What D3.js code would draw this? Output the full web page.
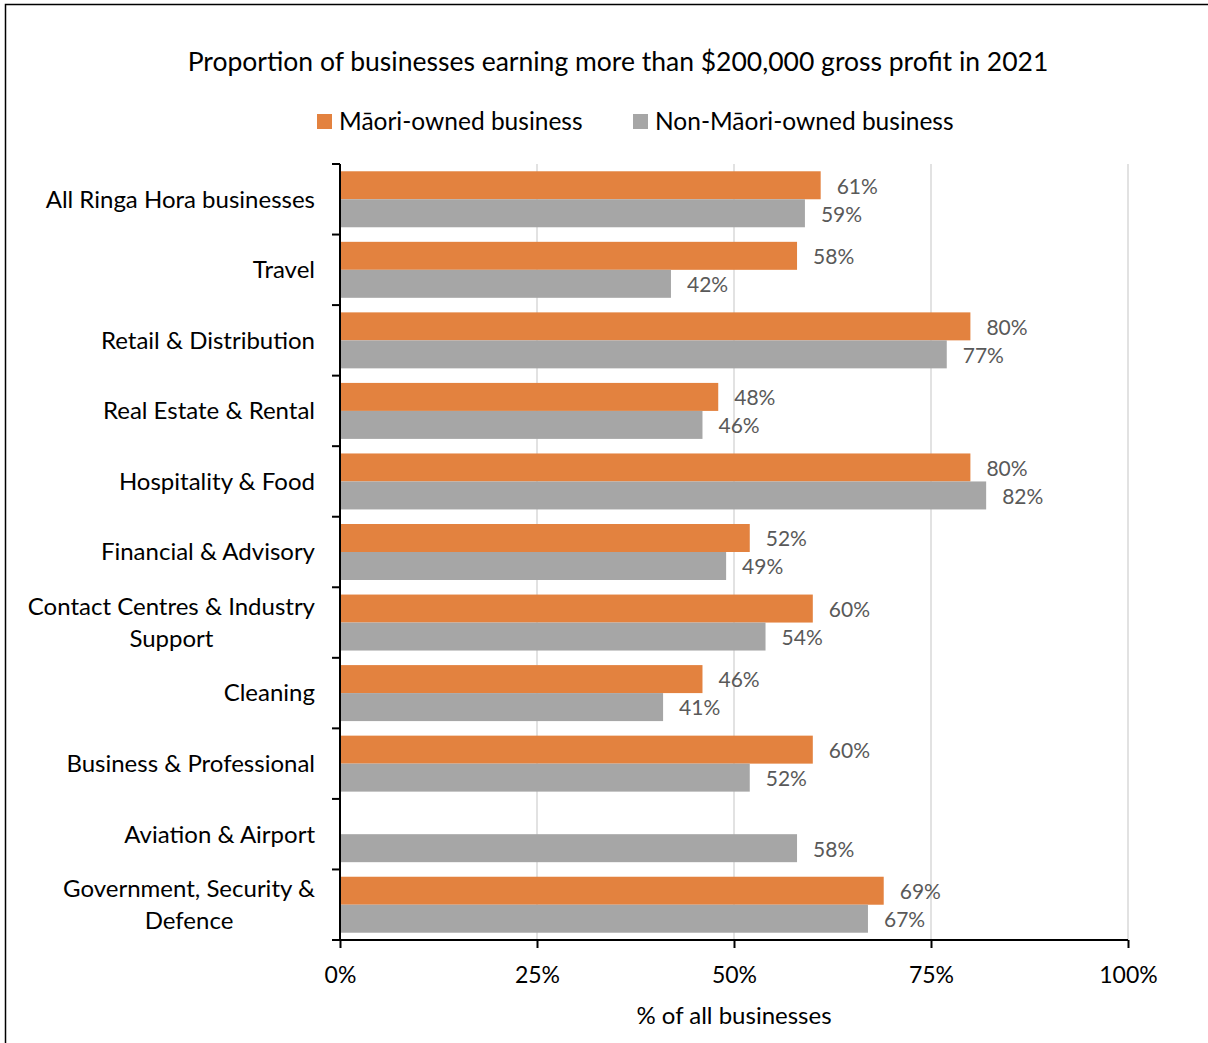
<!DOCTYPE html>
<html>
<head>
<meta charset="utf-8">
<script src="https://cdn.jsdelivr.net/npm/d3@7"></script>
<style>
  html, body { margin: 0; padding: 0; background: #fff; }
  svg { display: block; font-family: Lato, "Open Sans", sans-serif; }
</style>
</head>
<body>
<svg id="chart" width="1208" height="1043"></svg>
<script>
// Industry groups, top to bottom
const categories = [
  ["All Ringa Hora businesses"],
  ["Travel"],
  ["Retail & Distribution"],
  ["Real Estate & Rental"],
  ["Hospitality & Food"],
  ["Financial & Advisory"],
  ["Contact Centres & Industry", "Support"],
  ["Cleaning"],
  ["Business & Professional"],
  ["Aviation & Airport"],
  ["Government, Security &", "Defence"]
];
const seriesNames = ["Māori-owned business", "Non-Māori-owned business"];
// Percent of businesses earning more than $200,000 gross profit
const maoriValues    = [61, 58, 80, 48, 80, 52, 60, 46, 60, null, 69];
const nonMaoriValues = [59, 42, 77, 46, 82, 49, 54, 41, 52, 58, 67];
const xTicks = [0, 25, 50, 75, 100];

const colors = ["#E3823F", "#A6A6A6"];
const labelFont = 24;
const svg = d3.select("#chart");

// Outer frame
svg.append("rect")
  .attr("x", 5.5).attr("y", 4.5)
  .attr("width", 1220).attr("height", 1100)
  .attr("fill", "none").attr("stroke", "#000").attr("stroke-width", 1.5);

const plot = { left: 340, right: 1128, top: 164, bottom: 940 };

const x = d3.scaleLinear().domain([0, 100]).range([plot.left, plot.right]);
const catKeys = categories.map(c => c.join(" "));
const y = d3.scaleBand().domain(catKeys).range([plot.top, plot.bottom]).paddingInner(0).paddingOuter(0);
const ySub = d3.scaleBand().domain(seriesNames).range([0, y.bandwidth()]).paddingInner(0).paddingOuter(0.26);

// Title
svg.append("text")
  .attr("x", 618).attr("y", 71)
  .attr("text-anchor", "middle")
  .attr("font-size", 26.5).attr("fill", "#000")
  .text("Proportion of businesses earning more than $200,000 gross profit in 2021");

// Legend
const legendItems = [
  { name: seriesNames[0], color: colors[0], x: 317 },
  { name: seriesNames[1], color: colors[1], x: 633 }
];
const lg = svg.append("g").selectAll("g").data(legendItems).join("g")
  .attr("transform", d => `translate(${d.x},114)`);
lg.append("rect").attr("width", 15).attr("height", 15).attr("fill", d => d.color);
lg.append("text").attr("x", 22).attr("y", 15.5)
  .attr("font-size", 24.5).attr("fill", "#000")
  .text(d => d.name);

// Vertical gridlines
svg.append("g").selectAll("line").data(xTicks.slice(1)).join("line")
  .attr("x1", d => x(d)).attr("x2", d => x(d))
  .attr("y1", plot.top).attr("y2", plot.bottom)
  .attr("stroke", "#D9D9D9").attr("stroke-width", 1.5);

// Bars
const rows = catKeys.map((k, i) => ({ key: k, values: [maoriValues[i], nonMaoriValues[i]] }));
const barData = rows.flatMap(r => r.values.map((v, j) => ({ key: r.key, series: seriesNames[j], value: v, color: colors[j] })))
  .filter(d => d.value != null);

svg.append("g").selectAll("rect").data(barData).join("rect")
  .attr("x", x(0))
  .attr("y", d => y(d.key) + ySub(d.series))
  .attr("width", d => x(d.value) - x(0))
  .attr("height", ySub.bandwidth())
  .attr("fill", d => d.color);

// Value labels
svg.append("g").selectAll("text").data(barData).join("text")
  .attr("x", d => x(d.value) + 16)
  .attr("y", d => y(d.key) + ySub(d.series) + ySub.bandwidth() / 2 + 1)
  .attr("dy", "0.35em")
  .attr("font-size", 21).attr("fill", "#595959")
  .text(d => d.value + "%");

// Y axis: line with ticks at band boundaries
const yAxisG = svg.append("g");
yAxisG.append("line")
  .attr("x1", plot.left).attr("x2", plot.left)
  .attr("y1", plot.top).attr("y2", plot.bottom)
  .attr("stroke", "#000").attr("stroke-width", 2);
const bounds = catKeys.map(k => y(k)).concat([plot.bottom]);
yAxisG.selectAll("line.tick").data(bounds).join("line").attr("class", "tick")
  .attr("x1", plot.left - 8).attr("x2", plot.left)
  .attr("y1", d => d).attr("y2", d => d)
  .attr("stroke", "#000").attr("stroke-width", 2);

// Category labels (multi-line labels centred on their longest line)
const lineH = 32;
categories.forEach((lines, i) => {
  const cy = y(catKeys[i]) + y.bandwidth() / 2;
  const t = svg.append("text")
    .attr("font-size", labelFont).attr("fill", "#000")
    .attr("text-anchor", lines.length > 1 ? "middle" : "end");
  if (lines.length === 1) {
    t.attr("x", 315).attr("y", cy).attr("dy", "0.35em").text(lines[0]);
  } else {
    // measure widest line to centre the block against the right edge
    const probe = svg.append("text").attr("font-size", labelFont).text(lines[0]);
    const w = probe.node().getComputedTextLength();
    probe.remove();
    const cx = 315 - w / 2;
    lines.forEach((ln, j) => {
      t.append("tspan")
        .attr("x", cx)
        .attr("y", cy + (j - (lines.length - 1) / 2) * lineH)
        .attr("dy", "0.35em")
        .text(ln);
    });
  }
});

// X axis
const xAxis = d3.axisBottom(x).tickValues(xTicks).tickFormat(d => d + "%").tickSize(8).tickPadding(19);
const xg = svg.append("g").attr("transform", `translate(0,${plot.bottom})`).call(xAxis);
xg.select(".domain").attr("d", `M${plot.left - 8},0H${plot.right}`).attr("stroke", "#000").attr("stroke-width", 2);
xg.selectAll(".tick line").attr("stroke", "#000").attr("stroke-width", 2);
xg.selectAll(".tick text").attr("font-size", 23).attr("fill", "#000").attr("font-family", "Lato, 'Open Sans', sans-serif");

// X axis title
svg.append("text")
  .attr("x", x(50)).attr("y", 1024)
  .attr("text-anchor", "middle")
  .attr("font-size", 24).attr("fill", "#000")
  .text("% of all businesses");
</script>
</body>
</html>
